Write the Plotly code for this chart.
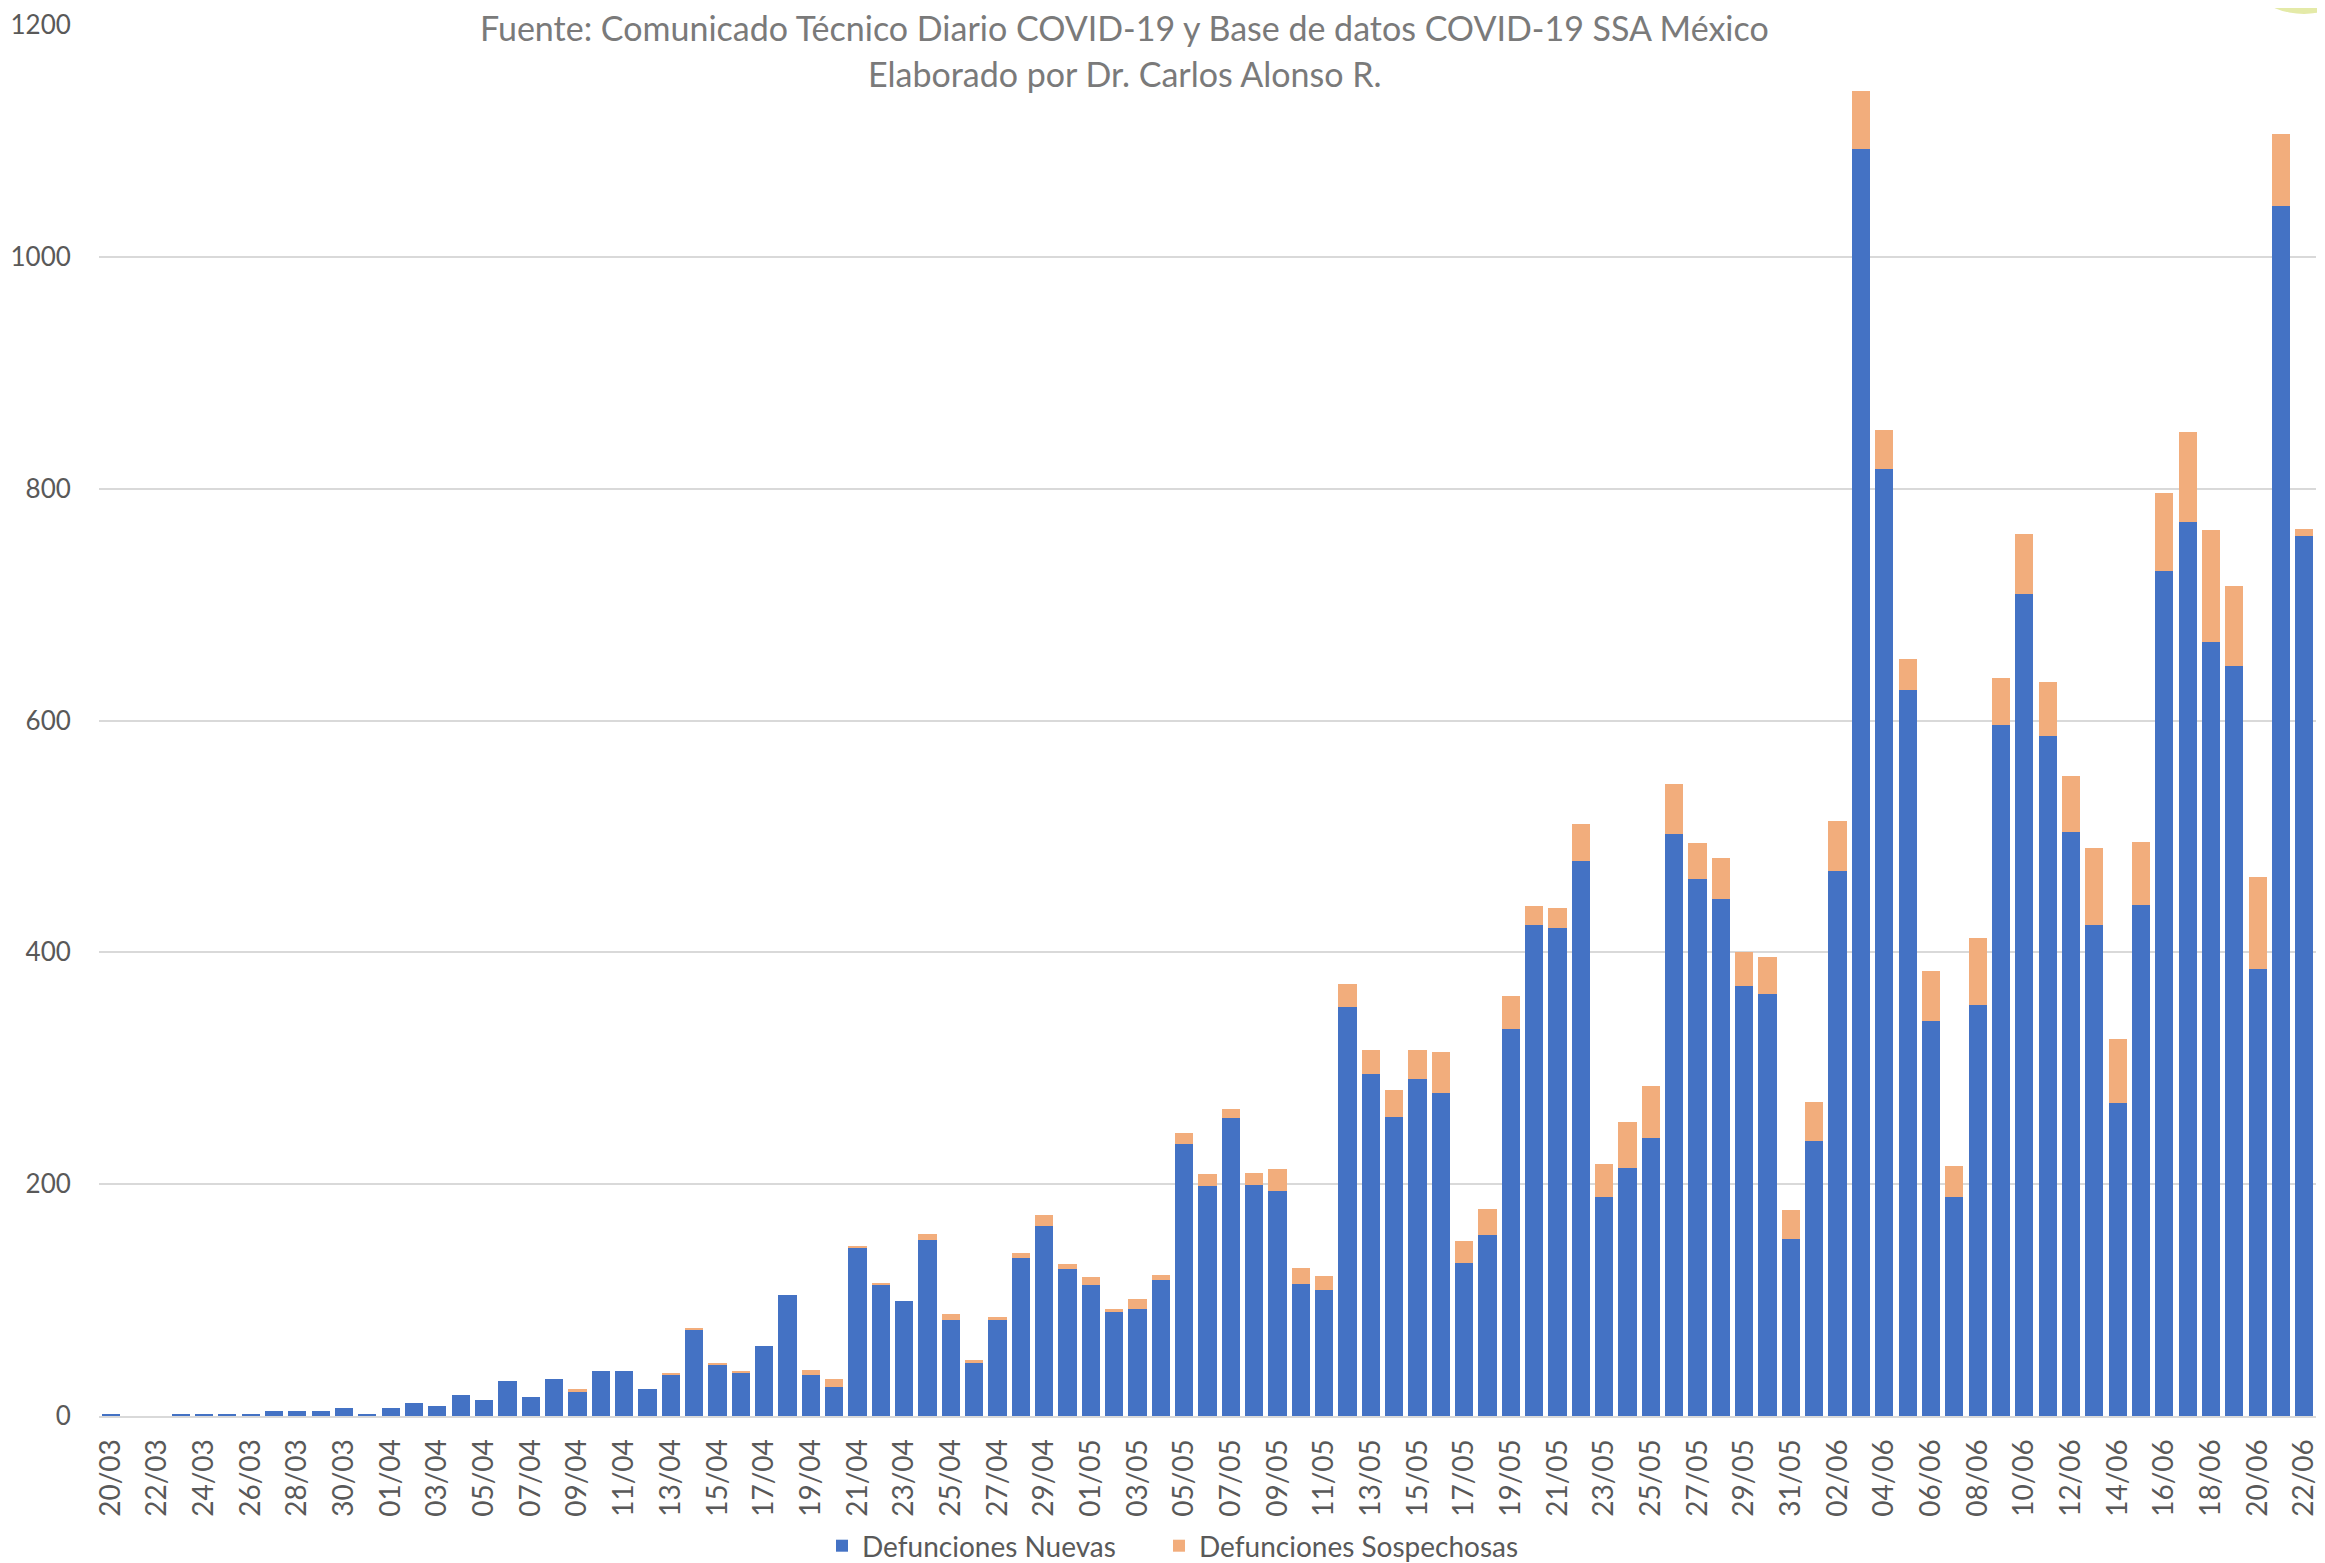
import plotly.graph_objects as go

# ---------------- data ----------------
dates = [
    "20/03", "21/03", "22/03", "23/03", "24/03", "25/03", "26/03", "27/03", "28/03", "29/03",
    "30/03", "31/03",
    "01/04", "02/04", "03/04", "04/04", "05/04", "06/04", "07/04", "08/04", "09/04", "10/04",
    "11/04", "12/04", "13/04", "14/04", "15/04", "16/04", "17/04", "18/04", "19/04", "20/04",
    "21/04", "22/04", "23/04", "24/04", "25/04", "26/04", "27/04", "28/04", "29/04", "30/04",
    "01/05", "02/05", "03/05", "04/05", "05/05", "06/05", "07/05", "08/05", "09/05", "10/05",
    "11/05", "12/05", "13/05", "14/05", "15/05", "16/05", "17/05", "18/05", "19/05", "20/05",
    "21/05", "22/05", "23/05", "24/05", "25/05", "26/05", "27/05", "28/05", "29/05", "30/05",
    "31/05",
    "01/06", "02/06", "03/06", "04/06", "05/06", "06/06", "07/06", "08/06", "09/06", "10/06",
    "11/06", "12/06", "13/06", "14/06", "15/06", "16/06", "17/06", "18/06", "19/06", "20/06",
    "21/06", "22/06",
]

defunciones_nuevas = [
    2, 0, 0, 2, 2, 2, 2, 4, 4, 4,
    7, 2,
    7, 11, 9, 18, 14, 30, 16, 32, 21, 39,
    39, 23, 35, 74, 44, 37, 60, 104, 35, 25,
    145, 113, 99, 152, 83, 46, 83, 136, 164, 127,
    113, 90, 92, 117, 235, 198, 257, 199, 194, 114,
    109, 353, 295, 258, 291, 279, 132, 156, 334, 424,
    421, 479, 189, 214, 240, 502, 463, 446, 371, 364,
    153,
    237, 470, 1093, 817, 626, 341, 189, 355, 596, 709,
    587, 504, 424, 270, 441, 729, 771, 668, 647, 386,
    1044, 759,
]

defunciones_sospechosas = [
    0, 0, 0, 0, 0, 0, 0, 0, 0, 0,
    0, 0,
    0, 0, 0, 0, 0, 0, 0, 0, 2, 0,
    0, 0, 2, 2, 2, 2, 0, 0, 5, 7,
    2, 2, 0, 5, 5, 2, 2, 5, 9, 4,
    7, 2, 9, 5, 9, 11, 8, 11, 19, 14,
    12, 20, 21, 23, 25, 35, 19, 23, 28, 16,
    17, 32, 28, 40, 45, 43, 31, 35, 29, 32,
    25,
    34, 43, 50, 34, 27, 43, 27, 57, 41, 52,
    46, 48, 66, 55, 54, 67, 78, 96, 69, 79,
    62, 6,
]

tick_labels = dates[::2]
y_ticks = [0, 200, 400, 600, 800, 1000, 1200]

series_names = ["Defunciones Nuevas", "Defunciones Sospechosas"]
title_line1 = "Fuente: Comunicado Técnico Diario COVID-19 y Base de datos COVID-19 SSA México"
title_line2 = "Elaborado por Dr. Carlos Alonso R."

# ---------------- styling ----------------
OFF = 8  # the page body adds an 8px margin around the figure
W, H = 2325 - OFF, 1563 - OFF
M_L, M_R, M_T, M_B = 99 - OFF, 9, 25 - OFF, 147
PLOT_W = W - M_L - M_R
PLOT_H = H - M_T - M_B

FONT = "Lato"
TICK_COLOR = "#595959"
TITLE_COLOR = "#7a7a7a"
BLUE = "#4472C4"
ORANGE = "#F2AD7C"
GRID = "#d9d9d9"


def px_x(px):
    # px in reference-image pixels
    return (px - OFF - M_L) / PLOT_W


def px_y(py):
    return (H - M_B - (py - OFF)) / PLOT_H


fig = go.Figure()
fig.add_trace(go.Bar(
    x=dates, y=defunciones_nuevas, name=series_names[0],
    marker=dict(color=BLUE, line=dict(width=0)),
    legend="legend",
))
fig.add_trace(go.Bar(
    x=dates, y=defunciones_sospechosas, name=series_names[1],
    marker=dict(color=ORANGE, line=dict(width=0)),
    legend="legend2",
))

legend_common = dict(
    orientation="h",
    yanchor="middle",
    y=px_y(1546),
    xanchor="left",
    font=dict(family=FONT, size=28, color=TICK_COLOR),
    bgcolor="rgba(0,0,0,0)",
)

fig.update_layout(
    width=W, height=H,
    margin=dict(l=M_L, r=M_R, t=M_T, b=M_B, autoexpand=False),
    paper_bgcolor="white",
    plot_bgcolor="white",
    barmode="stack",
    bargap=0.22,
    font=dict(family=FONT, size=28, color=TICK_COLOR),
    showlegend=True,
    legend=dict(x=px_x(822), **legend_common),
    legend2=dict(x=px_x(1159), **legend_common),
    xaxis=dict(
        type="category",
        categoryorder="array",
        categoryarray=dates,
        tickmode="array",
        tickvals=tick_labels,
        ticktext=tick_labels,
        tickangle=-90,
        ticks="outside",
        ticklen=10,
        tickcolor="rgba(0,0,0,0)",
        tickfont=dict(family=FONT, size=28, color=TICK_COLOR),
        showgrid=False,
        showline=True,
        linecolor=GRID,
        linewidth=2,
        range=[-0.5, len(dates) - 0.5],
    ),
    yaxis=dict(
        range=[0, 1200],
        tickmode="array",
        tickvals=y_ticks,
        ticktext=[str(v) for v in y_ticks],
        ticks="outside",
        ticklen=22,
        tickcolor="rgba(0,0,0,0)",
        tickfont=dict(family=FONT, size=26, color=TICK_COLOR),
        ticklabeloverflow="allow",
        showgrid=True,
        gridcolor=GRID,
        gridwidth=2,
        zeroline=False,
        showline=False,
    ),
    annotations=[
        dict(text=title_line1, xref="paper", yref="paper",
             x=px_x(1124), y=px_y(27), xanchor="center", yanchor="middle",
             showarrow=False, font=dict(family=FONT, size=34, color=TITLE_COLOR)),
        dict(text=title_line2, xref="paper", yref="paper",
             x=px_x(1125), y=px_y(73), xanchor="center", yanchor="middle",
             showarrow=False, font=dict(family=FONT, size=34, color=TITLE_COLOR)),
    ],
    shapes=[
        dict(type="circle", xref="paper", yref="paper",
             x0=px_x(2228), x1=px_x(2380), y0=px_y(14), y1=px_y(-140),
             fillcolor="#e4eaa8", line=dict(width=0), layer="above"),
    ],
)

fig.write_html("out.html")
